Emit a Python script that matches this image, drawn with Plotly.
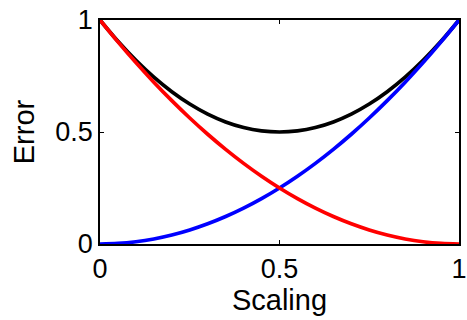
import plotly.graph_objects as go

scaling = [0.0, 0.05, 0.1, 0.15, 0.2, 0.25, 0.3, 0.35, 0.4, 0.45, 0.5,
           0.55, 0.6, 0.65, 0.7, 0.75, 0.8, 0.85, 0.9, 0.95, 1.0]
blue_err = [0.0, 0.0025, 0.01, 0.0225, 0.04, 0.0625, 0.09, 0.1225, 0.16, 0.2025, 0.25,
            0.3025, 0.36, 0.4225, 0.49, 0.5625, 0.64, 0.7225, 0.81, 0.9025, 1.0]
red_err = [1.0, 0.9025, 0.81, 0.7225, 0.64, 0.5625, 0.49, 0.4225, 0.36, 0.3025, 0.25,
           0.2025, 0.16, 0.1225, 0.09, 0.0625, 0.04, 0.0225, 0.01, 0.0025, 0.0]
black_err = [1.0, 0.905, 0.82, 0.745, 0.68, 0.625, 0.58, 0.545, 0.52, 0.505, 0.5,
             0.505, 0.52, 0.545, 0.58, 0.625, 0.68, 0.745, 0.82, 0.905, 1.0]
tick_vals = [0, 0.5, 1]
tick_text = ["0", "0.5", "1"]

font = "Liberation Sans, Arial, sans-serif"

fig = go.Figure()
fig.add_trace(go.Scatter(x=scaling, y=black_err, mode="lines", line=dict(color="#000000", width=3.7, shape="spline")))
fig.add_trace(go.Scatter(x=scaling, y=blue_err, mode="lines", line=dict(color="#0000ff", width=3.7, shape="spline")))
fig.add_trace(go.Scatter(x=scaling, y=red_err, mode="lines", line=dict(color="#ff0000", width=3.7, shape="spline")))

axis_common = dict(
    range=[0, 1], tickvals=tick_vals, ticktext=tick_text,
    showgrid=False, zeroline=False, showline=True, linecolor="#000000", linewidth=1.5,
    mirror="ticks", ticks="inside", ticklen=4, tickwidth=1, tickcolor="#000000",
    tickfont=dict(family=font, size=27, color="#000000"),
    ticklabeloverflow="allow", automargin=False,
)
fig.update_xaxes(**axis_common, title=dict(text="Scaling", font=dict(family=font, size=29, color="#000000"), standoff=5))
fig.update_yaxes(**axis_common, title=dict(text="Error", font=dict(family=font, size=29, color="#000000"), standoff=12))

fig.update_layout(
    width=467, height=320, showlegend=False,
    margin=dict(l=100, r=8, t=20, b=76),
    paper_bgcolor="white", plot_bgcolor="white",
)
fig.write_html("out.html")
